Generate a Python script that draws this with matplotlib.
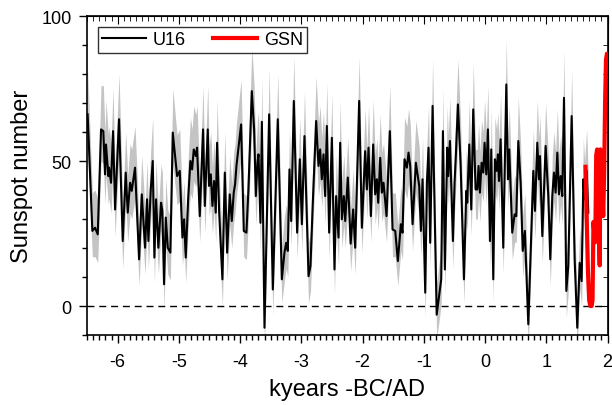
import numpy as np
import matplotlib
matplotlib.use('Agg')
import matplotlib.pyplot as plt
from matplotlib.ticker import MultipleLocator

plt.rcParams['font.family'] = ['Liberation Sans', 'DejaVu Sans']
plt.rcParams['axes.unicode_minus'] = False

# U16 reconstruction (kyears, sunspot number) with grey uncertainty band
u16_x = [-6.49, -6.413, -6.369, -6.325, -6.271, -6.234, -6.206, -6.19, -6.152, -6.141,
         -6.108, -6.075, -6.042, -5.977, -5.917, -5.868, -5.835, -5.797, -5.770, -5.716,
         -5.688, -5.650, -5.606, -5.552, -5.520, -5.498, -5.459, -5.427, -5.400, -5.373,
         -5.335, -5.291, -5.270, -5.242, -5.214, -5.181, -5.139, -5.10,
         -5.029, -4.986, -4.942, -4.915, -4.888, -4.850, -4.812, -4.784, -4.757, -4.724,
         -4.703, -4.659, -4.605, -4.577, -4.528, -4.507, -4.479, -4.452, -4.425, -4.398,
         -4.376, -4.343, -4.289, -4.250, -4.212, -4.169, -4.136, -4.104, -4.082, -4.060,
         -3.984, -3.940, -3.897, -3.864, -3.809, -3.771, -3.744, -3.717, -3.700, -3.668,
         -3.645,
         -3.602, -3.526, -3.466, -3.385, -3.319, -3.276, -3.248, -3.221, -3.194, -3.166,
         -3.123, -3.069, -3.025, -2.992, -2.949, -2.883, -2.851, -2.813, -2.758, -2.720,
         -2.693, -2.666, -2.638, -2.611, -2.584, -2.546, -2.502, -2.459, -2.432, -2.393,
         -2.366, -2.339, -2.306, -2.284, -2.241, -2.195,
         -2.154, -2.121, -2.056, -2.012, -1.958, -1.930, -1.903, -1.865, -1.827, -1.794,
         -1.767, -1.745, -1.712, -1.685, -1.658, -1.609, -1.555, -1.511, -1.467, -1.424,
         -1.375, -1.348, -1.315, -1.277, -1.250, -1.222, -1.184, -1.130, -1.075, -1.048,
         -1.021, -0.977, -0.950, -0.923, -0.896, -0.857, -0.79,
         -0.737, -0.716, -0.688, -0.656, -0.618, -0.601, -0.574, -0.525, -0.498, -0.476,
         -0.443, -0.400, -0.345, -0.307, -0.291, -0.258, -0.225, -0.193, -0.155, -0.127,
         -0.106, -0.084, -0.057, -0.029, -0.008, 0.020, 0.047, 0.080, 0.101, 0.134,
         0.161, 0.189, 0.210, 0.227, 0.254, 0.297, 0.347, 0.374, 0.395, 0.444,
         0.483, 0.510, 0.543, 0.581, 0.615, 0.650,
         0.706, 0.744, 0.788, 0.815, 0.853, 0.880, 0.897, 0.935, 0.989, 1.033,
         1.065, 1.098, 1.125, 1.152, 1.180, 1.207, 1.234, 1.261, 1.289, 1.327,
         1.359, 1.414, 1.463, 1.506, 1.545, 1.577, 1.605, 1.626, 1.659, 1.686]

u16_y = [66.1, 25.9, 27.0, 24.7, 60.9, 60.3, 45.4, 55.7, 44.8, 47.7,
         42.5, 60.3, 33.3, 64.4, 22.4, 46.0, 32.2, 42.5, 39.7, 47.7,
         34.5, 16.1, 38.5, 20.1, 36.8, 22.4, 40.2, 50.0, 16.7, 36.8,
         20.1, 35.6, 32.8, 7.5, 30.5, 20.1, 18.4, 59.8,
         44.8, 46.6, 23.6, 29.9, 16.7, 36.2, 50.0, 47.1, 54.0, 51.7,
         54.6, 31.0, 60.9, 34.5, 60.9, 41.4, 45.4, 34.5, 43.1, 32.2,
         56.3, 32.8, 9.2, 46.0, 18.4, 38.5, 29.3, 39.1, 42.0, 48.3,
         62.6, 25.9, 25.3, 40.2, 74.1, 60.9, 37.9, 49.4, 52.3, 28.7,
         63.5,
         -7.5, 66.1, 5.7, 64.4, 9.2, 18.4, 21.8, 19.0, 47.1, 29.3,
         70.7, 25.3, 50.6, 28.2, 58.6, 10.3, 13.8, 35.6, 63.8, 48.3,
         54.0, 43.7, 52.3, 37.9, 62.1, 25.3, 58.0, 12.6, 37.9, 23.6,
         56.3, 29.9, 37.9, 29.3, 44.3, 21.5,
         33.3, 20.1, 70.7, 27.0, 53.4, 40.2, 54.6, 31.0, 55.7, 38.5,
         43.7, 35.6, 51.1, 39.1, 42.5, 31.0, 60.3, 26.4, 25.9, 15.5,
         28.2, 25.3, 50.6, 47.7, 52.9, 48.3, 28.2, 49.4, 41.4, 25.9,
         43.7, 4.6, 42.5, 54.6, 21.8, 69.0, -3.0,
         5.7, 9.2, 60.3, 12.6, 54.6, 44.8, 56.9, 22.4, 42.5, 52.3,
         69.5, 49.4, 9.2, 39.7, 35.6, 55.7, 33.3, 67.8, 40.2, 40.2,
         48.3, 39.1, 49.4, 46.0, 56.3, 45.4, 60.9, 22.4, 54.0, 9.2,
         50.6, 46.6, 52.3, 43.1, 57.5, 20.1, 76.4, 43.7, 54.0, 25.3,
         31.6, 31.0, 56.9, 42.5, 19.0, 25.9,
         -6.3, 18.4, 46.6, 32.8, 56.3, 43.7, 51.7, 24.1, 55.2, 37.9,
         16.1, 37.9, 46.0, 39.1, 52.9, 38.5, 44.8, 37.9, 71.8, 5.2,
         13.8, 65.5, 16.1, -7.5, 14.9, 8.6, 43.7, 36.8, 46.6, 32.2]

u16_hi = [82, 39, 40, 37, 76, 76, 60, 71, 59, 62,
          56, 75, 47, 80, 35, 60, 45, 56, 54, 62,
          48, 28, 52, 33, 50, 35, 54, 65, 29, 50,
          33, 49, 46, 19, 44, 33, 31, 75,
          59, 61, 36, 43, 29, 50, 65, 61, 69, 66,
          69, 44, 76, 48, 76, 55, 60, 48, 57, 45,
          71, 46, 21, 60, 31, 52, 42, 53, 56, 63,
          78, 39, 38, 54, 89, 76, 52, 64, 67, 42,
          79,
          3, 82, 17, 80, 21, 31, 35, 31, 61, 42,
          86, 38, 65, 41, 74, 22, 26, 49, 79, 63,
          69, 58, 67, 52, 77, 38, 73, 25, 52, 36,
          71, 43, 52, 42, 58, 34,
          47, 33, 86, 40, 68, 54, 69, 44, 71, 52,
          58, 49, 66, 53, 56, 44, 76, 39, 39, 28,
          41, 38, 65, 62, 68, 63, 41, 64, 55, 39,
          58, 16, 56, 69, 35, 85, 8,
          17, 21, 75, 25, 69, 59, 72, 35, 56, 67,
          85, 64, 21, 54, 49, 71, 47, 84, 54, 54,
          63, 53, 64, 60, 71, 60, 76, 35, 69, 21,
          65, 61, 67, 57, 73, 33, 92, 58, 69, 38,
          45, 44, 72, 56, 31, 39,
          4, 31, 61, 46, 71, 58, 66, 37, 70, 52,
          28, 52, 60, 53, 68, 52, 59, 52, 88, 17,
          26, 81, 28, 3, 27, 20, 58, 50, 61, 45]

u16_lo = [55, 17, 17, 15, 50, 49, 35, 45, 35, 37,
          32, 49, 24, 53, 13, 36, 22, 32, 30, 37,
          25, 7, 28, 11, 27, 13, 30, 39, 8, 27,
          11, 26, 23, -1, 21, 11, 9, 49,
          35, 36, 14, 20, 8, 26, 39, 37, 43, 41,
          44, 22, 50, 25, 50, 31, 35, 25, 33, 22,
          45, 23, 0, 36, 9, 28, 20, 29, 32, 38,
          51, 17, 16, 30, 62, 50, 28, 39, 42, 19,
          52,
          -15, 55, -3, 53, 1, 9, 13, 10, 37, 20,
          59, 16, 40, 19, 48, 1, 5, 26, 53, 38,
          43, 34, 42, 28, 51, 16, 47, 4, 28, 14,
          45, 20, 28, 20, 34, 12,
          24, 11, 59, 18, 43, 30, 44, 22, 45, 28,
          34, 26, 41, 29, 32, 22, 49, 17, 17, 7,
          19, 16, 40, 37, 42, 38, 19, 39, 31, 17,
          34, -4, 32, 44, 13, 57, -11,
          -3, 1, 49, 4, 44, 35, 46, 13, 32, 42,
          58, 39, 1, 30, 26, 45, 24, 56, 30, 30,
          38, 29, 39, 36, 45, 35, 50, 13, 43, 1,
          40, 36, 42, 33, 47, 11, 64, 34, 43, 16,
          22, 22, 46, 32, 10, 17,
          -14, 9, 36, 23, 45, 34, 41, 15, 44, 28,
          7, 28, 36, 29, 42, 28, 35, 28, 60, -4,
          5, 54, 7, -15, 6, 0, 34, 27, 36, 22]

# GSN (group sunspot number)
gsn_x = [1.640, 1.660, 1.680, 1.700, 1.720, 1.740, 1.755, 1.770, 1.785, 1.800,
         1.815, 1.830, 1.845, 1.860, 1.872, 1.885, 1.900, 1.915, 1.930, 1.945,
         1.960, 1.975, 1.990, 2.005]
gsn_y = [48, 30, 12, 2, 0, 0, 2, 29, 25, 22,
         52, 54, 53, 25, 14, 54, 52, 40, 31, 46,
         70, 85, 87, 86]

fig = plt.figure(figsize=(6.12, 4.06), dpi=100)
ax = fig.add_axes([0.1422, 0.1724, 0.8505, 0.7857])

ax.fill_between(u16_x, u16_lo, u16_hi, color='#c4c4c4', lw=0, zorder=1)
ax.plot(u16_x, u16_y, color='black', lw=1.5, label='U16', zorder=3)
ax.plot(gsn_x, gsn_y, color='red', lw=3, label='GSN', zorder=4)
ax.axhline(0, color='black', lw=1, ls=(0, (5, 3.5)), zorder=2)

ax.set_xlim(-6.5, 2.0)
ax.set_ylim(-10, 100)
ax.xaxis.set_major_locator(MultipleLocator(1))
ax.xaxis.set_minor_locator(MultipleLocator(0.1))
ax.yaxis.set_major_locator(MultipleLocator(50))
ax.yaxis.set_minor_locator(MultipleLocator(10))

ax.tick_params(axis='both', which='both', labelsize=13, width=1, color='black')
ax.tick_params(axis='x', which='major', direction='out', length=6, pad=7)
ax.tick_params(axis='x', which='minor', direction='out', length=3.5)
ax.tick_params(axis='y', which='major', direction='out', length=6, pad=5)
ax.tick_params(axis='y', which='minor', direction='out', length=3.5)

# inward ticks on the top and right edges
axt = ax.secondary_xaxis('top')
axt.xaxis.set_major_locator(MultipleLocator(1))
axt.xaxis.set_minor_locator(MultipleLocator(0.1))
axt.tick_params(which='major', direction='in', length=6, labeltop=False)
axt.tick_params(which='minor', direction='in', length=3.5)
axr = ax.secondary_yaxis('right')
axr.yaxis.set_major_locator(MultipleLocator(50))
axr.yaxis.set_minor_locator(MultipleLocator(10))
axr.tick_params(which='major', direction='in', length=6, labelright=False)
axr.tick_params(which='minor', direction='in', length=3.5)

for s in ax.spines.values():
    s.set_linewidth(1.2)

ax.set_xlabel('kyears -BC/AD', fontsize=17, labelpad=6)
ax.set_ylabel('Sunspot number', fontsize=17, labelpad=6)

leg = ax.legend(loc='upper left', ncol=2, fontsize=13, frameon=True, fancybox=False,
                edgecolor='black', handlelength=2.4, columnspacing=1.5,
                borderpad=0.25, handletextpad=0.4, borderaxespad=0,
                bbox_to_anchor=(0.021, 0.966))
leg.get_frame().set_linewidth(1)

fig.savefig('out.png', dpi=100)
